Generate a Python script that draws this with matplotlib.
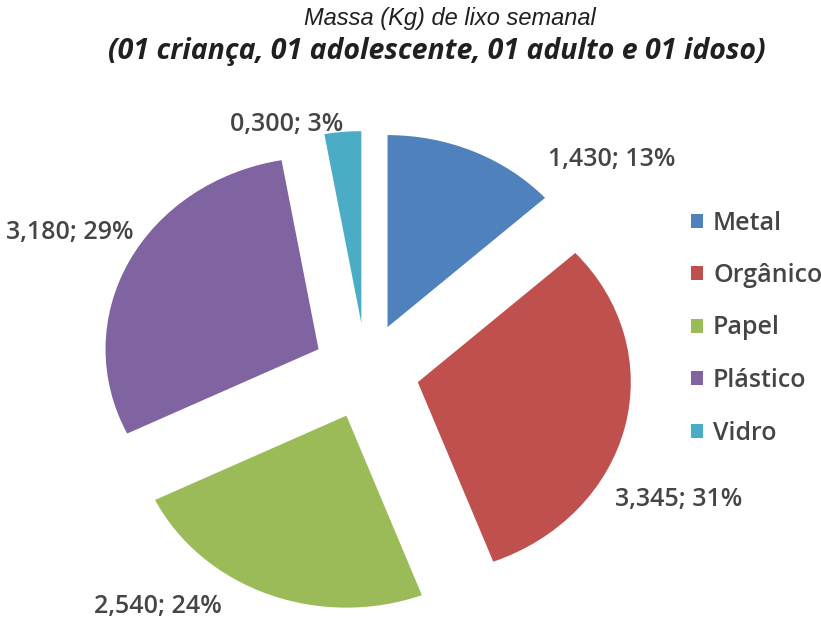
import matplotlib
matplotlib.use("Agg")
import matplotlib.pyplot as plt
import numpy as np

categories = ["Metal", "Orgânico", "Papel", "Plástico", "Vidro"]
values = [1.430, 3.345, 2.540, 3.180, 0.300]
colors = ["#4F81BD", "#C0504D", "#9BBB59", "#8064A2", "#4BACC6"]

plt.rcParams['font.family'] = ['Open Sans', 'DejaVu Sans']

fig = plt.figure(figsize=(8.21, 6.24), dpi=100)
W, H = 821, 624
cx, cy = 366, 371      # pie centre (px from top-left)
rx, ry = 213, 192      # horizontal / vertical radius in px (stretched picture)
lim = 1.5
wx, hy = 2 * lim * rx, 2 * lim * ry
ax = fig.add_axes([(cx - wx / 2) / W, (H - cy - hy / 2) / H, wx / W, hy / H])

wedges, _ = ax.pie(values, colors=colors, startangle=90, counterclock=False,
                   explode=[0.25] * len(values), radius=1.0,
                   wedgeprops=dict(linewidth=0))
ax.set_xlim(-lim, lim)
ax.set_ylim(-lim, lim)
ax.set_aspect('auto')
ax.axis('off')

total = sum(values)
label_pos = [(1.155, 1.104), (1.469, -0.667), (-0.977, -1.224), (-1.39, 0.719), (-0.371, 1.286)]
for v, (x, y) in zip(values, label_pos):
    pct = round(v / total * 100)
    txt = f"{v:.3f}".replace('.', ',') + f"; {pct}%"
    ax.text(x, y, txt, ha='center', va='center', fontsize=18, color='#454545',
            fontweight='semibold')

fig.text(450 / W, 1 - 18 / H, "Massa (Kg) de lixo semanal", ha='center', va='center',
         fontsize=17, style='italic', color='#202020', family=['Liberation Sans', 'DejaVu Sans'])
fig.text(437 / W, 1 - 51 / H, "(01 criança, 01 adolescente, 01 adulto e 01 idoso)", ha='center',
         va='center', fontsize=20.5, style='italic', fontweight='bold', color='#202020')

leg = fig.legend(wedges, categories, loc='upper left', bbox_to_anchor=(668 / W, 1 - 188 / H),
                 frameon=False, fontsize=18, labelspacing=1.1, handlelength=0.5,
                 handleheight=0.5, handletextpad=0.4, labelcolor='#454545',
                 prop=dict(size=18, weight='semibold'))

fig.savefig("out.png", dpi=100)
